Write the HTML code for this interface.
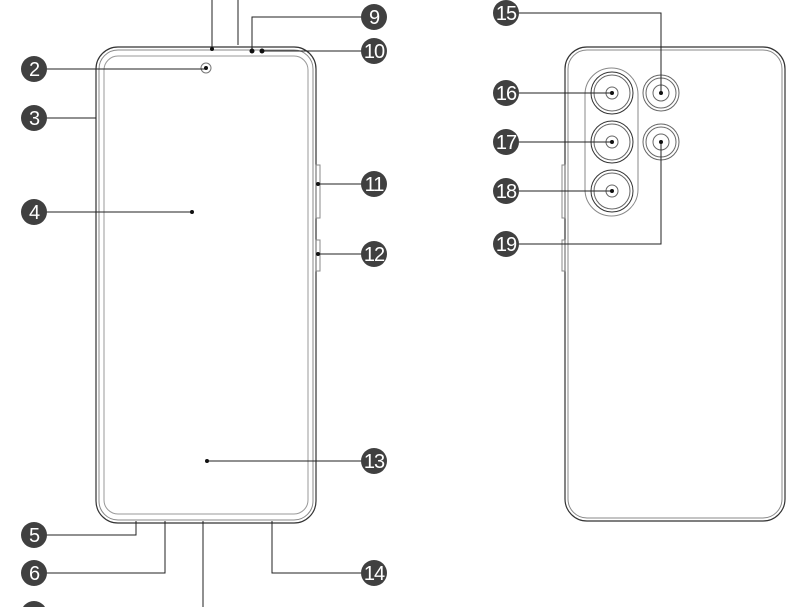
<!DOCTYPE html>
<html><head><meta charset="utf-8"><style>
html,body{margin:0;padding:0;background:#fff;width:812px;height:607px;overflow:hidden}
svg{display:block}
text{font-family:"Liberation Sans",sans-serif;font-size:20px;fill:#fff;text-anchor:middle;letter-spacing:-1px}
</style></head><body>
<svg width="812" height="607" viewBox="0 0 812 607" xmlns="http://www.w3.org/2000/svg">
<g fill="none" stroke="#222" stroke-width="1">
<rect x="96" y="47" width="220" height="476" rx="22" stroke-width="1.2" stroke="#333"/>
<rect x="99" y="50" width="214" height="470" rx="19" stroke="#888"/>
<rect x="104" y="56" width="204" height="458" rx="14" stroke="#999"/>
<rect x="316" y="165" width="4" height="53" stroke="#888"/>
<rect x="316" y="240" width="4" height="31" stroke="#888"/>
<circle cx="206" cy="68" r="5" stroke="#777"/>
<rect x="565" y="47" width="220" height="474" rx="22" stroke-width="1.2" stroke="#333"/>
<rect x="568" y="50" width="214" height="468" rx="19" stroke="#888"/>
<rect x="562" y="165" width="3" height="53" stroke="#888"/>
<rect x="562" y="240" width="3" height="31" stroke="#888"/>
<rect x="585" y="68" width="53" height="148" rx="26.5" stroke="#888"/>
<g stroke="#333"><circle cx="612" cy="93" r="21"/><circle cx="612" cy="142" r="21"/><circle cx="612" cy="191" r="21"/></g>
<g stroke="#666"><circle cx="612" cy="93" r="18"/><circle cx="612" cy="142" r="18"/><circle cx="612" cy="191" r="18"/>
<circle cx="612" cy="93" r="6"/><circle cx="612" cy="142" r="6"/><circle cx="612" cy="191" r="6"/>
<circle cx="661" cy="93" r="18"/><circle cx="661" cy="142" r="18"/><circle cx="661" cy="93" r="15"/><circle cx="661" cy="142" r="15"/>
<circle cx="661" cy="93" r="8"/><circle cx="661" cy="142" r="8"/></g>
<path d="M45 69H206M45 118H96M45 212H192M45 535H136V521M45 573H165V521M203 521V607M363 573H272V521M363 461H207M363 184H318M363 254H318M363 17H252V51M363 51H262M212 0V49M238 0V45M517 13H661V93M517 93H612M517 142H612M517 191H612M517 244H661V142"/>
</g>
<g fill="#111">
<circle cx="206" cy="68" r="2"/><circle cx="192" cy="212" r="2"/><circle cx="207" cy="461" r="2"/>
<circle cx="318" cy="184" r="2"/><circle cx="318" cy="254" r="2"/><circle cx="252" cy="51" r="2.5"/><circle cx="262" cy="51" r="2.5"/>
<circle cx="212" cy="49" r="2"/>
<circle cx="612" cy="93" r="2"/><circle cx="612" cy="142" r="2"/><circle cx="612" cy="191" r="2"/>
<circle cx="661" cy="93" r="2"/><circle cx="661" cy="142" r="2"/>
</g>
<g fill="#404040">
<circle cx="34" cy="69" r="13"/><circle cx="34" cy="118" r="13"/><circle cx="34" cy="212" r="13"/>
<circle cx="34" cy="535" r="13"/><circle cx="34" cy="573" r="13"/><circle cx="34" cy="614" r="13"/>
<circle cx="374" cy="17" r="13"/><circle cx="374" cy="51" r="13"/><circle cx="374" cy="184" r="13"/>
<circle cx="374" cy="254" r="13"/><circle cx="374" cy="461" r="13"/><circle cx="374" cy="573" r="13"/>
<circle cx="506" cy="13" r="13"/><circle cx="506" cy="93" r="13"/><circle cx="506" cy="142" r="13"/>
<circle cx="506" cy="191" r="13"/><circle cx="506" cy="244" r="13"/>
</g>
<text x="34" y="76">2</text><text x="34" y="125">3</text><text x="34" y="219">4</text>
<text x="34" y="542">5</text><text x="34" y="580">6</text><text x="34" y="621">7</text>
<text x="374" y="24">9</text><text x="374" y="58">10</text><text x="374" y="191">11</text>
<text x="374" y="261">12</text><text x="374" y="468">13</text><text x="374" y="580">14</text>
<text x="506" y="20">15</text><text x="506" y="100">16</text><text x="506" y="149">17</text>
<text x="506" y="198">18</text><text x="506" y="251">19</text>
</svg>
</body></html>
